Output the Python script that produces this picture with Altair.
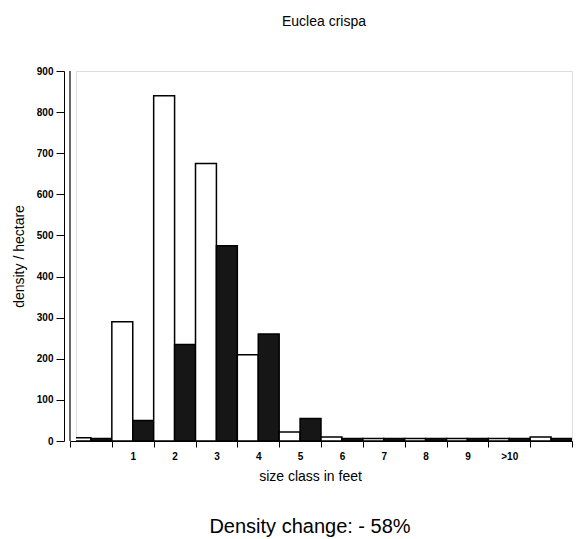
import altair as alt
import pandas as pd

# size classes (first and last bands carry no label in the original)
categories = [" ", "1", "2", "3", "4", "5", "6", "7", "8", "9", ">10", "  "]
before = [8, 290, 840, 675, 210, 22, 10, 6, 6, 6, 6, 10]
after = [6, 50, 235, 475, 260, 55, 6, 6, 6, 6, 6, 6]
y_ticks = [0, 100, 200, 300, 400, 500, 600, 700, 800, 900]

title_text = "Euclea crispa"
x_title = "size class in feet"
y_title = "density / hectare"
note_text = "Density change: - 58%"

FONT = "Liberation Sans"

rows = []
for c, b, a in zip(categories, before, after):
    rows.append({"size": c, "period": "before", "density": b})
    rows.append({"size": c, "period": "after", "density": a})
df = pd.DataFrame(rows)

bars = alt.Chart(df).mark_bar(stroke="black", strokeWidth=1.5, clip=True).encode(
    x=alt.X(
        "size:N",
        sort=categories,
        scale=alt.Scale(paddingInner=0, paddingOuter=0, range=[-6, 496]),
        axis=alt.Axis(
            title=x_title,
            labelAngle=0,
            tickBand="extent",
            tickSize=6,
            labelPadding=4,
            labelFontSize=10,
            labelFontWeight="bold",
            labelFont=FONT,
            titleFont=FONT,
            titleFontSize=14,
            titleFontWeight="normal",
            titlePadding=8,
            titleX=234,
            domainColor="black",
            tickColor="black",
            labelColor="black",
            titleColor="black",
        ),
    ),
    xOffset=alt.XOffset("period:N", sort=["before", "after"]),
    y=alt.Y(
        "density:Q",
        scale=alt.Scale(domain=[0, 900], nice=False),
        axis=alt.Axis(
            title=y_title,
            values=y_ticks,
            grid=False,
            offset=12,
            tickSize=8,
            labelPadding=3,
            labelFontSize=10,
            labelFontWeight="bold",
            labelFont=FONT,
            titleFont=FONT,
            titleFontSize=14,
            titleFontWeight="normal",
            titlePadding=10,
            domainColor="black",
            tickColor="black",
            labelColor="black",
            titleColor="black",
        ),
    ),
    fill=alt.Fill(
        "period:N",
        scale=alt.Scale(domain=["before", "after"], range=["#ffffff", "#161616"]),
        legend=None,
    ),
)

# inner line of the 3-D side wall next to the y axis
wall = alt.Chart(pd.DataFrame({"w": [0]})).mark_rule(
    color="black", strokeWidth=1.2
).encode(x=alt.value(-6), y=alt.value(0), y2=alt.value(370))

note = alt.Chart(pd.DataFrame({"t": [note_text]})).mark_text(
    font=FONT, fontSize=20, align="center", baseline="alphabetic", color="black"
).encode(x=alt.value(234), y=alt.value(462), text="t:N")

chart = alt.layer(bars, wall, note).properties(
    width=496,
    height=370,
    title=alt.TitleParams(
        title_text, font=FONT, fontSize=14, fontWeight="normal", color="black", offset=37
    ),
    autosize=alt.AutoSizeParams(type="none"),
    padding={"left": 76, "top": 71, "right": 12, "bottom": 98},
).configure_view(stroke="black", strokeWidth=1.5).configure(background="white")

chart.save("out.html", embed_options={"renderer": "svg", "actions": False})
